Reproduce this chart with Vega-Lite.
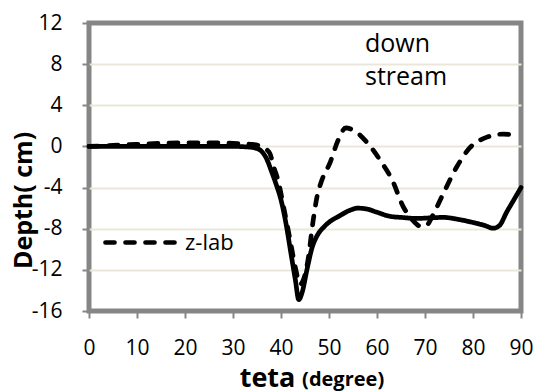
{
  "$schema": "https://vega.github.io/schema/vega-lite/v6.json",
  "width": 432,
  "height": 288,
  "autosize": {"type": "none"},
  "padding": {"left": 89, "top": 23, "right": 18, "bottom": 81},
  "background": "white",
  "config": {
    "font": "Open Sans",
    "view": {"stroke": "#868686", "strokeWidth": 5},
    "axis": {
      "domain": false,
      "labelFont": "Open Sans",
      "labelFontSize": 21,
      "labelColor": "black",
      "tickColor": "#868686",
      "tickWidth": 2,
      "tickSize": 7,
      "titleFont": "Open Sans",
      "titleColor": "black",
      "titleFontWeight": "bold"
    }
  },
  "datasets": {
    "depth": [
      {"teta": 0, "depth": 0, "series": "model"},
      {"teta": 10, "depth": 0, "series": "model"},
      {"teta": 20, "depth": 0, "series": "model"},
      {"teta": 30, "depth": 0, "series": "model"},
      {"teta": 33, "depth": -0.05, "series": "model"},
      {"teta": 35, "depth": -0.2, "series": "model"},
      {"teta": 36, "depth": -0.5, "series": "model"},
      {"teta": 37, "depth": -1.2, "series": "model"},
      {"teta": 38, "depth": -2.4, "series": "model"},
      {"teta": 39, "depth": -3.7, "series": "model"},
      {"teta": 40, "depth": -5.2, "series": "model"},
      {"teta": 41, "depth": -7.4, "series": "model"},
      {"teta": 42, "depth": -10.2, "series": "model"},
      {"teta": 43, "depth": -13.0, "series": "model"},
      {"teta": 43.7, "depth": -14.9, "series": "model"},
      {"teta": 44.4, "depth": -14.2, "series": "model"},
      {"teta": 45.4, "depth": -12.0, "series": "model"},
      {"teta": 46.5, "depth": -9.8, "series": "model"},
      {"teta": 47.5, "depth": -8.7, "series": "model"},
      {"teta": 49, "depth": -7.8, "series": "model"},
      {"teta": 50.5, "depth": -7.2, "series": "model"},
      {"teta": 52, "depth": -6.8, "series": "model"},
      {"teta": 54.4, "depth": -6.2, "series": "model"},
      {"teta": 56, "depth": -6.0, "series": "model"},
      {"teta": 58, "depth": -6.1, "series": "model"},
      {"teta": 60, "depth": -6.4, "series": "model"},
      {"teta": 62.7, "depth": -6.8, "series": "model"},
      {"teta": 65, "depth": -6.9, "series": "model"},
      {"teta": 68.3, "depth": -7.0, "series": "model"},
      {"teta": 71, "depth": -6.95, "series": "model"},
      {"teta": 73.8, "depth": -6.9, "series": "model"},
      {"teta": 77, "depth": -7.1, "series": "model"},
      {"teta": 80, "depth": -7.4, "series": "model"},
      {"teta": 82.5, "depth": -7.7, "series": "model"},
      {"teta": 84.2, "depth": -7.95, "series": "model"},
      {"teta": 85.5, "depth": -7.7, "series": "model"},
      {"teta": 87, "depth": -6.4, "series": "model"},
      {"teta": 88.5, "depth": -5.2, "series": "model"},
      {"teta": 90, "depth": -4.0, "series": "model"},

      {"teta": 0, "depth": 0, "series": "z-lab"},
      {"teta": 5, "depth": 0.1, "series": "z-lab"},
      {"teta": 10, "depth": 0.2, "series": "z-lab"},
      {"teta": 15, "depth": 0.3, "series": "z-lab"},
      {"teta": 20, "depth": 0.35, "series": "z-lab"},
      {"teta": 25, "depth": 0.35, "series": "z-lab"},
      {"teta": 30, "depth": 0.3, "series": "z-lab"},
      {"teta": 34, "depth": 0.2, "series": "z-lab"},
      {"teta": 36, "depth": 0, "series": "z-lab"},
      {"teta": 37, "depth": -0.3, "series": "z-lab"},
      {"teta": 37.7, "depth": -0.7, "series": "z-lab"},
      {"teta": 38.5, "depth": -2.0, "series": "z-lab"},
      {"teta": 39.5, "depth": -3.5, "series": "z-lab"},
      {"teta": 40.5, "depth": -5.8, "series": "z-lab"},
      {"teta": 41.9, "depth": -9.1, "series": "z-lab"},
      {"teta": 43, "depth": -11.8, "series": "z-lab"},
      {"teta": 44, "depth": -13.4, "series": "z-lab"},
      {"teta": 44.8, "depth": -12.8, "series": "z-lab"},
      {"teta": 45.6, "depth": -11.1, "series": "z-lab"},
      {"teta": 46.7, "depth": -7.2, "series": "z-lab"},
      {"teta": 47.5, "depth": -4.9, "series": "z-lab"},
      {"teta": 48.5, "depth": -3.3, "series": "z-lab"},
      {"teta": 50.2, "depth": -1.6, "series": "z-lab"},
      {"teta": 51.9, "depth": 0.6, "series": "z-lab"},
      {"teta": 53.5, "depth": 1.8, "series": "z-lab"},
      {"teta": 55, "depth": 1.6, "series": "z-lab"},
      {"teta": 57.9, "depth": 0.4, "series": "z-lab"},
      {"teta": 60.6, "depth": -1.3, "series": "z-lab"},
      {"teta": 63.3, "depth": -3.4, "series": "z-lab"},
      {"teta": 65.4, "depth": -5.8, "series": "z-lab"},
      {"teta": 67.3, "depth": -7.1, "series": "z-lab"},
      {"teta": 69.3, "depth": -7.8, "series": "z-lab"},
      {"teta": 70.5, "depth": -7.6, "series": "z-lab"},
      {"teta": 71.5, "depth": -6.8, "series": "z-lab"},
      {"teta": 73.8, "depth": -4.6, "series": "z-lab"},
      {"teta": 76.6, "depth": -2.0, "series": "z-lab"},
      {"teta": 79.4, "depth": -0.1, "series": "z-lab"},
      {"teta": 82.9, "depth": 0.9, "series": "z-lab"},
      {"teta": 86.3, "depth": 1.2, "series": "z-lab"},
      {"teta": 89.4, "depth": 1.0, "series": "z-lab"}
    ],
    "side": [
      {"teta": 57.5, "depth": 9.18, "note": "down\nstream"}
    ],
    "unit": [
      {"teta": 44.4, "depth": -23.3, "note": "(degree)"}
    ]
  },
  "layer": [
    {
      "data": {"name": "depth"},
      "mark": {"type": "line", "interpolate": "monotone", "color": "black", "strokeWidth": 4.7, "strokeCap": "round", "strokeJoin": "round"},
      "encoding": {
        "x": {
          "field": "teta",
          "type": "quantitative",
          "scale": {"domain": [0, 90], "nice": false, "zero": false},
          "axis": {
            "values": [0, 5, 10, 15, 20, 25, 30, 35, 40, 45, 50, 55, 60, 65, 70, 75, 80, 85, 90],
            "labelExpr": "datum.value % 10 === 0 ? '' + datum.value : ''",
            "labelPadding": 19,
            "labelFlush": false,
            "labelOverlap": false,
            "grid": false,
            "title": "teta",
            "titleFontSize": 27,
            "titleX": 178,
            "titleY": 75,
            "titleAlign": "center",
            "titleBaseline": "alphabetic"
          }
        },
        "y": {
          "field": "depth",
          "type": "quantitative",
          "scale": {"domain": [-16, 12], "nice": false, "zero": false},
          "axis": {
            "values": [-16, -14, -12, -10, -8, -6, -4, -2, 0, 2, 4, 6, 8, 10, 12],
            "labelExpr": "datum.value % 4 === 0 ? '' + datum.value : ''",
            "labelPadding": 20,
            "labelFlush": false,
            "labelOverlap": false,
            "grid": true,
            "gridColor": "#EAE7DA",
            "gridWidth": 2,
            "gridOpacity": {"condition": {"test": "datum.value % 4 === 0 && datum.value > -16 && datum.value < 12", "value": 1}, "value": 0},
            "title": "Depth( cm)",
            "titleFontSize": 25,
            "titleX": -58,
            "titleY": 177,
            "titleAngle": -90,
            "titleAlign": "center",
            "titleBaseline": "alphabetic"
          }
        },
        "strokeDash": {
          "field": "series",
          "type": "nominal",
          "scale": {"domain": ["z-lab", "model"], "range": [[9, 11], [1, 0]]},
          "legend": {
            "values": ["z-lab"],
            "title": null,
            "orient": "none",
            "legendX": 14,
            "legendY": 182,
            "padding": 0,
            "symbolType": "stroke",
            "symbolSize": 4900,
            "symbolStrokeWidth": 4.7,
            "symbolStrokeColor": "black",
            "labelFont": "Open Sans",
            "labelFontSize": 22,
            "labelColor": "black",
            "labelOffset": 7,
            "encode": {"symbols": {"update": {"strokeCap": {"value": "round"}}}}
          }
        }
      }
    },
    {
      "data": {"name": "side"},
      "mark": {"type": "text", "align": "left", "baseline": "alphabetic", "lineBreak": "\n", "lineHeight": 33, "fontSize": 25, "color": "black", "font": "Open Sans"},
      "encoding": {
        "x": {"field": "teta", "type": "quantitative"},
        "y": {"field": "depth", "type": "quantitative"},
        "text": {"field": "note"}
      }
    },
    {
      "data": {"name": "unit"},
      "mark": {"type": "text", "align": "left", "baseline": "alphabetic", "fontSize": 20, "fontWeight": "bold", "color": "black", "font": "Open Sans"},
      "encoding": {
        "x": {"field": "teta", "type": "quantitative"},
        "y": {"field": "depth", "type": "quantitative"},
        "text": {"field": "note"}
      }
    }
  ]
}
